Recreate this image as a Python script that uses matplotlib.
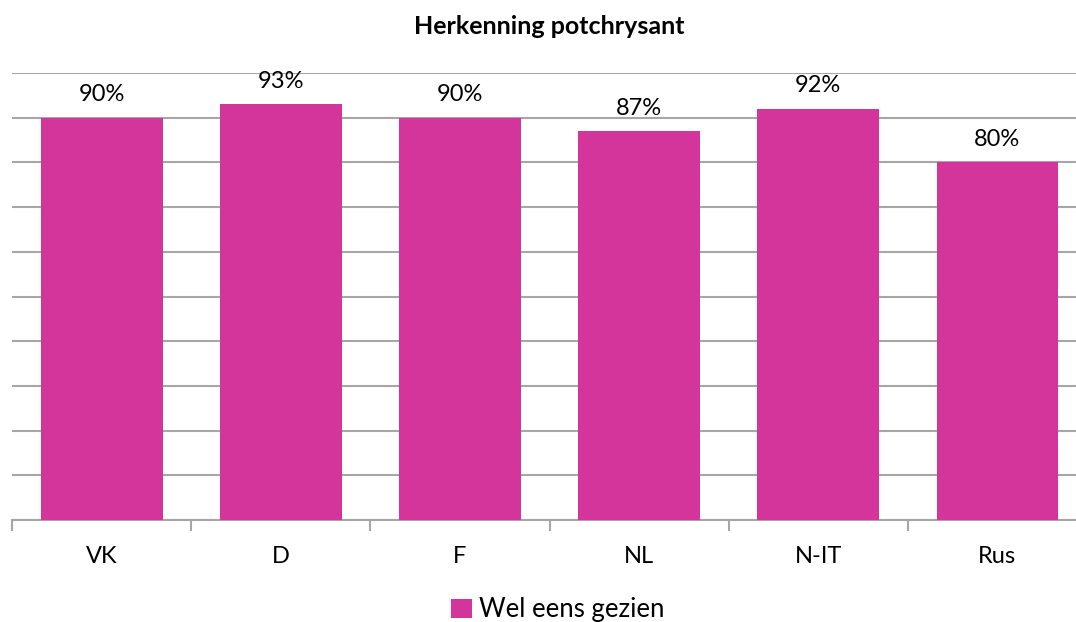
import matplotlib.pyplot as plt
from matplotlib.ticker import FixedLocator

# data
categories = ['VK', 'D', 'F', 'NL', 'N-IT', 'Rus']
values = [90, 93, 90, 87, 92, 80]
series_name = 'Wel eens gezien'
title = 'Herkenning potchrysant'

plt.rcParams['font.family'] = ['Lato', 'DejaVu Sans']
bar_color = '#D4359B'
grid_color = '#A6A6A6'

fig = plt.figure(figsize=(10.76, 6.22), dpi=100)
ax = fig.add_axes([12 / 1076, 102 / 622, 1075 / 1076, 447 / 622])

x = list(range(len(categories)))
bars = ax.bar(x, values, width=0.68, color=bar_color, label=series_name, zorder=3)

for xi, v in zip(x, values):
    ax.annotate(f'{v}%', (xi, v), xytext=(0, 9), textcoords='offset points',
                ha='center', va='bottom', fontsize=17, color='black')

ax.set_ylim(0, 100)
ax.set_xlim(-0.5, len(categories) - 0.5)
ax.set_yticks(range(0, 101, 10))
ax.yaxis.grid(True, color=grid_color, linewidth=1.5, zorder=0)
ax.tick_params(axis='y', length=0, labelleft=False)

ax.set_xticks(x)
ax.set_xticklabels(categories, fontsize=17)
ax.xaxis.set_minor_locator(FixedLocator([i - 0.5 for i in range(len(categories) + 1)]))
ax.tick_params(axis='x', which='major', length=0, pad=19)
ax.tick_params(axis='x', which='minor', length=8, width=1.5, color=grid_color, direction='out')

for s in ['top', 'right', 'left']:
    ax.spines[s].set_visible(False)
ax.spines['bottom'].set_color(grid_color)
ax.spines['bottom'].set_linewidth(1.5)

fig.text(549 / 1076, 1 - 27 / 622, title, ha='center', va='center',
         fontsize=18, fontweight='bold')

fig.legend(loc='center', bbox_to_anchor=(558 / 1076, 1 - 610 / 622), frameon=False,
           fontsize=18.5, handlelength=0.8, handleheight=0.8, handletextpad=0.3,
           borderaxespad=0)

fig.savefig('out.png', dpi=100)
